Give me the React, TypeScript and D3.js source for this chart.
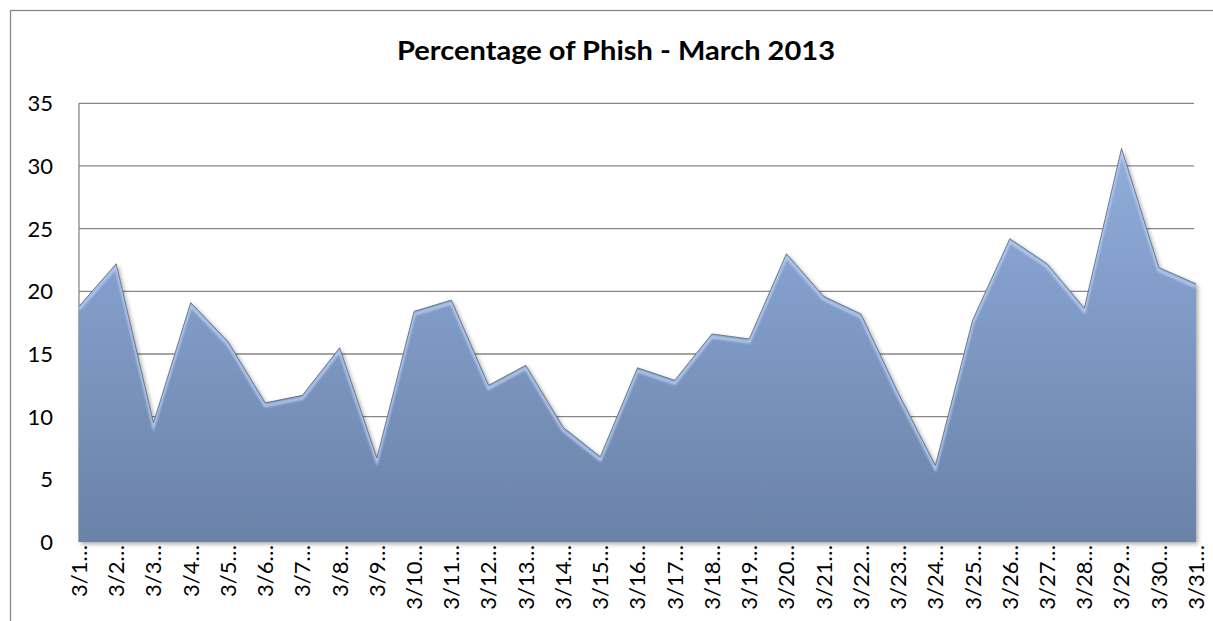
import React from "react";
import * as d3 from "d3";

const categories: string[] = Array.from({ length: 31 }, (_, i) => `3/${i + 1}`);
const values: number[] = [
  18.8, 22.2, 9.5, 19.1, 16.0, 11.1, 11.7, 15.5, 6.7, 18.4,
  19.3, 12.5, 14.1, 9.15, 6.8, 13.9, 12.9, 16.6, 16.2, 23.0,
  19.6, 18.2, 11.9, 6.1, 17.7, 24.2, 22.2, 18.65, 31.4, 21.9, 20.6,
];
const yTicks: number[] = [0, 5, 10, 15, 20, 25, 30, 35];
const title = "Percentage of Phish - March 2013";

const W = 1213;
const H = 621;
const left = 79;
const right = 1196;
const top = 103.3;
const bottom = 542;
const gridRight = 1194;
const FONT = "Lato, 'Open Sans', sans-serif";

export default function App() {
  const x = d3.scalePoint<string>().domain(categories).range([left, right]).padding(0);
  const y = d3.scaleLinear().domain([0, 35]).range([bottom, top]);
  const data = categories.map((c, i) => ({ c, v: values[i] }));

  const area = d3
    .area<{ c: string; v: number }>()
    .x((d) => x(d.c) as number)
    .y0(y(0))
    .y1((d) => y(d.v));
  const line = d3
    .line<{ c: string; v: number }>()
    .x((d) => x(d.c) as number)
    .y((d) => y(d.v));
  const hiLine = d3
    .line<{ c: string; v: number }>()
    .x((d) => x(d.c) as number)
    .y((d) => y(d.v) + 3);

  const areaPath = area(data) as string;

  return (
    <svg
      width={W}
      height={H}
      style={{ position: "absolute", left: 0, top: 0, display: "block" }}
    >
      <defs>
        <linearGradient id="fillG" gradientUnits="userSpaceOnUse" x1="0" y1={top} x2="0" y2={bottom}>
          <stop offset="0" stopColor="#95b1df" />
          <stop offset="0.45" stopColor="#819cc8" />
          <stop offset="1" stopColor="#6a82a8" />
        </linearGradient>
        <filter id="shadow" x="-5%" y="-5%" width="110%" height="115%">
          <feDropShadow dx="2" dy="2" stdDeviation="2" floodColor="#000" floodOpacity="0.35" />
        </filter>
        <filter id="blur1">
          <feGaussianBlur stdDeviation="1.2" />
        </filter>
        <clipPath id="areaClip">
          <path d={areaPath} />
        </clipPath>
      </defs>
      <rect x={0} y={0} width={W} height={H} fill="#fff" />
      <rect x={10.5} y={10.5} width={W} height={H} fill="none" stroke="#878787" strokeWidth={1.3} />

      <text
        x={616}
        y={60}
        textAnchor="middle"
        fontFamily={FONT}
        fontWeight="bold"
        fontSize={26}
        textLength={438}
        lengthAdjust="spacingAndGlyphs"
        fill="#000"
      >
        {title}
      </text>

      {yTicks.map((t) => (
        <g key={t}>
          {t > 0 && (
            <line x1={left} x2={gridRight} y1={y(t)} y2={y(t)} stroke="#878787" strokeWidth={1.3} />
          )}
          <text
            x={53}
            y={y(t)}
            dy="0.36em"
            textAnchor="end"
            fontFamily={FONT}
            fontSize={22}
            fill="#000"
          >
            {t}
          </text>
        </g>
      ))}
      <line x1={left} x2={left} y1={top} y2={bottom} stroke="#878787" strokeWidth={1.3} />

      <g filter="url(#shadow)">
        <path d={areaPath} fill="url(#fillG)" />
      </g>
      <g clipPath="url(#areaClip)">
        <path d={hiLine(data) as string} fill="none" stroke="#b9cff2" strokeWidth={3} filter="url(#blur1)" opacity={0.9} />
        <line x1={left} x2={right} y1={bottom - 2} y2={bottom - 2} stroke="#5a6e8e" strokeWidth={3} filter="url(#blur1)" opacity={0.7} />
        <line x1={right - 2} x2={right - 2} y1={top} y2={bottom} stroke="#5a6e8e" strokeWidth={3} filter="url(#blur1)" opacity={0.6} />
      </g>
      <path d={line(data) as string} fill="none" stroke="#5d6a7c" strokeWidth={1} opacity={0.8} />

      {categories.map((c) => (
        <text
          key={c}
          transform={`translate(${x(c)},${bottom + 3}) rotate(-90)`}
          dy="0.36em"
          textAnchor="end"
          fontFamily={FONT}
          fontSize={22}
          fill="#000"
        >
          {c + "…"}
        </text>
      ))}
    </svg>
  );
}
